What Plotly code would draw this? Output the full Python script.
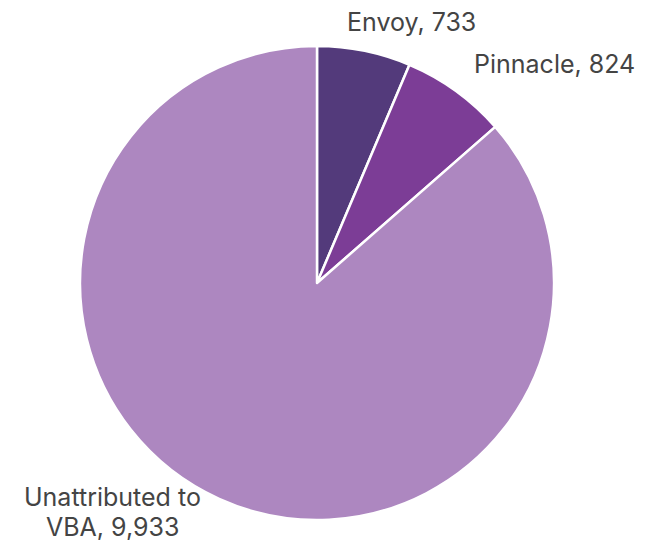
import plotly.graph_objects as go

labels = ["Envoy", "Pinnacle", "Unattributed to VBA"]
values = [733, 824, 9933]
colors = ["#533A7B", "#7C3D96", "#AD87C0"]
label_lines = [["Envoy, 733"], ["Pinnacle, 824"], ["Unattributed to", "VBA, 9,933"]]

W, H = 650, 546
cx, cy, r = 317, 283, 237

fig = go.Figure(go.Pie(
    labels=labels, values=values, sort=False, direction="clockwise", rotation=0,
    marker=dict(colors=colors, line=dict(color="white", width=2.5)),
    textinfo="none", hoverinfo="label+value",
    domain=dict(x=[(cx - r) / W, (cx + r) / W], y=[(H - cy - r) / H, (H - cy + r) / H]),
    showlegend=False,
))

# label anchor positions in pixels (center of first line), line pitch
pos = [(411, 22), (554, 64), (112, 497)]
pitch = 30
for lines, (px, py) in zip(label_lines, pos):
    for i, t in enumerate(lines):
        fig.add_annotation(text=t, x=px / W, y=1 - (py + i * pitch) / H, xref="paper", yref="paper",
                           showarrow=False, xanchor="center", yanchor="middle", align="center",
                           font=dict(family="Inter", size=25, color="#444444"))

fig.update_layout(width=W, height=H, margin=dict(l=0, r=0, t=0, b=0),
                  paper_bgcolor="white", plot_bgcolor="white")
fig.write_html("out.html")
